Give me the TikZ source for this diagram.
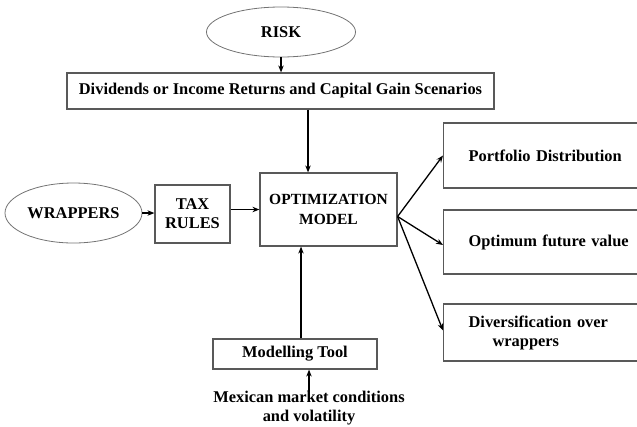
\documentclass[tikz,border=0pt]{standalone}
\usepackage{fontspec}
\setmainfont{Liberation Serif}
\usetikzlibrary{shapes.geometric,arrows.meta}
\begin{document}
\begin{tikzpicture}[x=1pt, y=-1pt, >={Stealth[length=7pt,width=5.5pt]},
    every node/.style={font=\fontsize{16.4}{19}\selectfont\bfseries, inner sep=0pt},
    oval/.style={ellipse, draw=black!55, line width=0.8pt},
    box/.style={rectangle, draw=black!65, line width=1.2pt, align=center},
    outbox/.style={box, anchor=west, align=left, text width=200pt, inner xsep=25pt},
    link/.style={->, line width=1.3pt}]
    \useasboundingbox (0,0) rectangle (637,426);

    % --- inputs ---
    \node[oval, minimum width=149pt, minimum height=50pt] (risk) at (281,32) {RISK};
    \node[box, minimum width=427pt, minimum height=36pt] (scen) at (280.5,91)
        {Dividends or Income Returns and Capital Gain Scenarios};
    \node[oval, minimum width=137pt, minimum height=60pt] (wrap) at (73.5,213) {WRAPPERS};
    \node[box, minimum width=75pt, minimum height=58pt] (tax) at (192.5,214) {TAX\\RULES};

    % --- model ---
    \node[box, minimum width=137pt, minimum height=73pt,
          font=\fontsize{15.5}{20}\selectfont\bfseries] (opt) at (328.5,209.5) {OPTIMIZATION\\MODEL};
    \node[box, minimum width=164pt, minimum height=30pt] (tool) at (295,354) {Modelling Tool};
    \node[align=center] (mex) at (309,408) {Mexican market conditions\\and volatility};

    % --- outputs ---
    \node[outbox, minimum height=65pt] (port) at (443,155.5) {Portfolio Distribution};
    \node[outbox, minimum height=64pt] (optv) at (443,242) {Optimum future value};
    \node[outbox, minimum height=57pt] (divers) at (443,332.5)
        {Diversification over\\\hspace*{24pt}wrappers};

    % --- connectors ---
    \draw[link] (risk.south) -- (scen.north -| risk.south);
    \draw[link] ([xshift=-20.5pt]opt.north |- scen.south) -- ([xshift=-20.5pt]opt.north);
    \draw[link] (wrap.east) -- (tax.west |- wrap.east);
    \draw[link] (tax.east |- opt.west) -- (opt.west);
    \draw[link] ([xshift=-27.5pt]opt.south |- tool.north) -- ([xshift=-27.5pt]opt.south);
    \draw[link] (mex.north) -- (mex.north |- tool.south);

    \coordinate (fan) at ([yshift=-7pt]opt.east);
    \draw[link] (fan) -- (port.west);
    \draw[link] (fan) -- ([yshift=-3pt]optv.west);
    \draw[link] (fan) -- ([yshift=2pt]divers.west);
\end{tikzpicture}
\end{document}
